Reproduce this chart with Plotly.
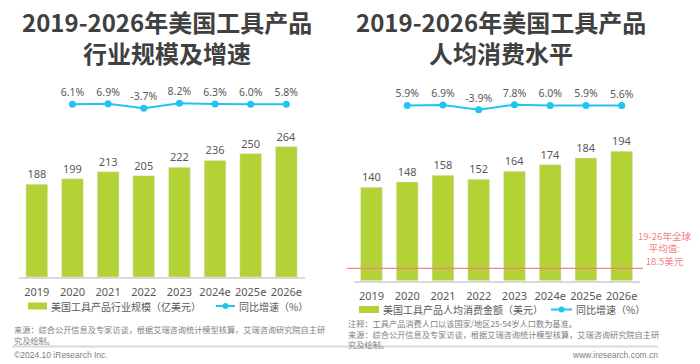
import plotly.graph_objects as go

years = ["2019", "2020", "2021", "2022", "2023", "2024e", "2025e", "2026e"]
market_size = [188, 199, 213, 205, 222, 236, 250, 264]
market_growth = [6.1, 6.9, -3.7, 8.2, 6.3, 6.0, 5.8]
per_capita = [140, 148, 158, 152, 164, 174, 184, 194]
per_capita_growth = [5.9, 6.9, -3.9, 7.8, 6.0, 5.9, 5.6]
global_avg = 18.5

W, H = 700, 364
def px_x(p): return p / W
def px_y(p): return 1 - p / H

BAR = "#B3D235"
CYAN = "#1FC5F0"
GREY = "#595959"
RED = "#F08585"
CJK = "Noto Sans CJK SC"
NUM = "Noto Sans"

fig = go.Figure()

# left chart
fig.add_trace(go.Bar(x=years, y=market_size, marker_color=BAR, width=0.61,
                     text=market_size, textposition="outside", cliponaxis=False,
                     textfont=dict(family=NUM, size=11, color=GREY),
                     xaxis="x", yaxis="y", showlegend=False, hoverinfo="skip"))
fig.add_trace(go.Scatter(x=years[1:], y=market_growth, mode="lines+markers+text",
                         text=[f"{v:.1f}%" for v in market_growth], textposition="top center",
                         textfont=dict(family=NUM, size=10.5, color=GREY),
                         line=dict(color=CYAN, width=2), marker=dict(color=CYAN, size=7),
                         cliponaxis=False, xaxis="x", yaxis="y2", showlegend=False, hoverinfo="skip"))
# right chart
fig.add_trace(go.Bar(x=years, y=per_capita, marker_color=BAR, width=0.61,
                     text=per_capita, textposition="outside", cliponaxis=False,
                     textfont=dict(family=NUM, size=11, color=GREY),
                     xaxis="x2", yaxis="y3", showlegend=False, hoverinfo="skip"))
fig.add_trace(go.Scatter(x=years[1:], y=per_capita_growth, mode="lines+markers+text",
                         text=[f"{v:.1f}%" for v in per_capita_growth], textposition="top center",
                         textfont=dict(family=NUM, size=10.5, color=GREY),
                         line=dict(color=CYAN, width=2), marker=dict(color=CYAN, size=7),
                         cliponaxis=False, xaxis="x2", yaxis="y4", showlegend=False, hoverinfo="skip"))

xcommon = dict(type="category", categoryorder="array", categoryarray=years,
               showline=True, linecolor="#D9D9D9", linewidth=1.5, ticks="",
               showgrid=False, zeroline=False, ticklabelstandoff=4,
               tickfont=dict(family=NUM, size=11, color=GREY), fixedrange=True)

fig.update_layout(
    width=W, height=H, margin=dict(l=0, r=0, t=0, b=0),
    paper_bgcolor="white", plot_bgcolor="white", bargap=0.39,
    xaxis=dict(domain=[px_x(19), px_x(305)], anchor="y", **xcommon),
    yaxis=dict(domain=[px_y(277), px_y(138.7)], range=[0, 138.3 / 0.494], visible=False),
    yaxis2=dict(domain=[px_y(113), px_y(98)], range=[-15, 20.7], visible=False, anchor="x"),
    xaxis2=dict(domain=[px_x(353.6), px_x(640.4)], anchor="y3", **xcommon),
    yaxis3=dict(domain=[px_y(280.7), px_y(140)], range=[0, 140.7 / 0.667], visible=False, anchor="x2"),
    yaxis4=dict(domain=[px_y(113), px_y(98)], range=[-11.7, 23.4], visible=False, anchor="x2"),
)

shapes = []
ann = []

def text(x, y, s, size, color=GREY, anchor="left", family=CJK, bold=False, yanchor="middle"):
    ann.append(dict(xref="paper", yref="paper", x=px_x(x), y=px_y(y), text=f"<b>{s}</b>" if bold else s,
                    showarrow=False, xanchor=anchor, yanchor=yanchor, align=anchor if anchor != "center" else "center",
                    font=dict(family=family, size=size, color=color)))

# titles
text(167, 37.5, "2019-2026年美国工具产品<br>行业规模及增速", 24, "#404040", "center", bold=True)
text(501, 37.5, "2019-2026年美国工具产品<br>人均消费水平", 24, "#404040", "center", bold=True)

# global average red line
shapes.append(dict(type="line", xref="paper", yref="y3", x0=px_x(347), x1=px_x(643),
                   y0=global_avg, y1=global_avg, line=dict(color=RED, width=1.3)))
text(664, 248, f"19-26年全球<br>平均值:<br>{global_avg}美元", 9.5, RED, "center")

# legends
def legend(rx0, rx1, ry, label1, lx0, lx1, label2):
    shapes.append(dict(type="rect", xref="paper", yref="paper", x0=px_x(rx0), x1=px_x(rx1),
                       y0=px_y(ry + 3.5), y1=px_y(ry - 3.5), fillcolor=BAR, line=dict(width=0)))
    text(rx1 + 2, ry, label1, 10)
    shapes.append(dict(type="line", xref="paper", yref="paper", x0=px_x(lx0), x1=px_x(lx1),
                       y0=px_y(ry), y1=px_y(ry), line=dict(color=CYAN, width=2)))
    m = (lx0 + lx1) / 2
    shapes.append(dict(type="circle", xref="paper", yref="paper", x0=px_x(m - 3), x1=px_x(m + 3),
                       y0=px_y(ry + 3), y1=px_y(ry - 3), fillcolor=CYAN, line=dict(width=0)))
    text(lx1 + 2, ry, label2, 10)

legend(28, 47, 306, "美国工具产品行业规模（亿美元）", 216, 235, "同比增速（%）")
legend(359, 379, 309.5, "美国工具产品人均消费金额（美元）", 551, 572, "同比增速（%）")

# footers
FG = "#808080"
src = "来源：综合公开信息及专家访谈，根据艾瑞咨询统计模型核算，艾瑞咨询研究院自主研<br>究及绘制。"
text(12, 334.5, src, 8.2, FG)
text(346, 333, "注释：工具产品消费人口以该国家/地区25-54岁人口数为基准。<br>" + src, 8.2, FG)
shapes.append(dict(type="line", xref="paper", yref="paper", x0=px_x(12), x1=px_x(658),
                   y0=px_y(346.5), y1=px_y(346.5), line=dict(color="#D9D9D9", width=2)))
text(12, 355, "©2024.10 iResearch Inc.", 8.5, FG, family="Liberation Sans")
text(660, 355, "www.iresearch.com.cn", 8.5, FG, anchor="right", family="Liberation Sans")

fig.update_layout(shapes=shapes, annotations=ann)
fig.write_html("out.html", config={"displayModeBar": False},
               post_script="document.body.style.margin='0px';document.body.style.overflow='hidden';")
